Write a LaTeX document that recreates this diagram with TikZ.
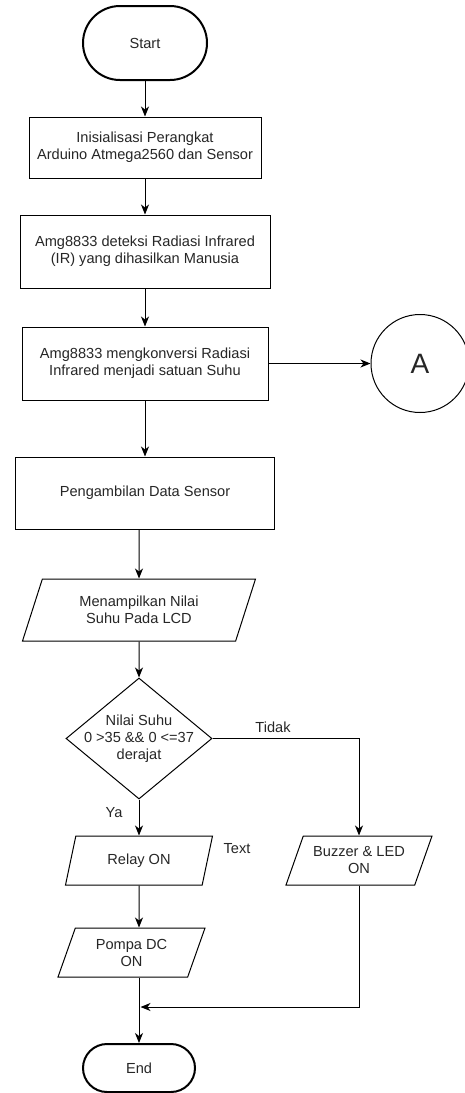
\documentclass[tikz,border=0pt]{standalone}
\usepackage{fontspec}
\setmainfont{Liberation Sans}
\usetikzlibrary{shapes.geometric,arrows.meta}

\begin{document}
\begin{tikzpicture}[x=1pt,y=-1pt,>={Stealth[length=10pt,width=8pt,inset=3pt]}]
        \tikzstyle{every node}=[font=\fontsize{14.6}{17}\selectfont,text=black!85,align=center]
        \tikzstyle{terminal}=[draw,line width=2pt,rounded corners=24pt,minimum width=112pt,minimum height=48pt]
        \tikzstyle{proses}=[draw,line width=1pt,minimum width=232pt,minimum height=61pt]
        \tikzstyle{io}=[draw,line width=1pt,trapezium,trapezium left angle=63,trapezium right angle=117,trapezium stretches body,minimum height=49pt,minimum width=147pt]
        \tikzstyle{konektor}=[draw,line width=1pt,circle,minimum size=98pt,font=\fontsize{28}{30}\selectfont]
        \tikzstyle{alur}=[->,line width=1pt]
        \useasboundingbox (0,0) rectangle (465,1093);
        \node[terminal,rounded corners=37pt,minimum width=124pt,minimum height=74pt] (start) at (145,43) {Start};
        \node[proses] (init) at (145,147.5) {Inisialisasi Perangkat\\Arduino Atmega2560 dan Sensor};
        \node[proses,minimum width=250pt,minimum height=73pt] (deteksi) at (145,251.5) {Amg8833 deteksi Radiasi Infrared\\(IR) yang dihasilkan Manusia};
        \node[proses,minimum width=246pt,minimum height=73pt] (konversi) at (145,363.5) {Amg8833 mengkonversi Radiasi\\Infrared menjadi satuan Suhu};
        \node[konektor] (A) at (420,363.5) {A};
        \node[proses,minimum width=259pt,minimum height=72pt] (data) at (145,493) {Pengambilan Data Sensor};
        \node[io,trapezium left angle=60,trapezium right angle=120,minimum width=233pt,minimum height=62pt] (lcd) at (139,610) {Menampilkan Nilai\\Suhu Pada LCD};
        \node[draw,line width=1pt,diamond,inner sep=0pt,minimum width=146pt,minimum height=121pt] (cek) at (139,738.5) {};
        \node (cekteks) at (139,739) {Nilai Suhu\\0 >35 \&\& 0 <=37\\derajat};
        \node[io] (relay) at (139,860.5) {Relay ON};
        \node[io,minimum width=146pt] (buzzer) at (359,860.5) {Buzzer \& LED\\ON};
        \node[io] (pompa) at (131.5,952.5) {Pompa DC\\ON};
        \node[terminal] (end) at (139,1068) {End};
        \node (tidak) at (273,727) {Tidak};
        \node (ya) at (114,813) {Ya};
        \node (teks) at (237,849) {Text};
        \coordinate (gabung) at (140.5,1007);
        \draw[alur] (start) -- (init);
        \draw[alur] (init) -- (deteksi);
        \draw[alur] (deteksi) -- (konversi);
        \draw[alur] (konversi) -- (A);
        \draw[alur] (konversi) -- (data);
        \draw[alur] (lcd |- data.south) -- (lcd);
        \draw[alur] (lcd) -- (cek);
        \draw[alur] (cek) -- (relay);
        \draw[alur] (cek) -| (buzzer);
        \draw[alur] (relay) -- (relay |- pompa.north);
        \draw[alur] (end |- pompa.south) -- (end);
        \draw[alur] (buzzer) |- (gabung);
\end{tikzpicture}
\end{document}
